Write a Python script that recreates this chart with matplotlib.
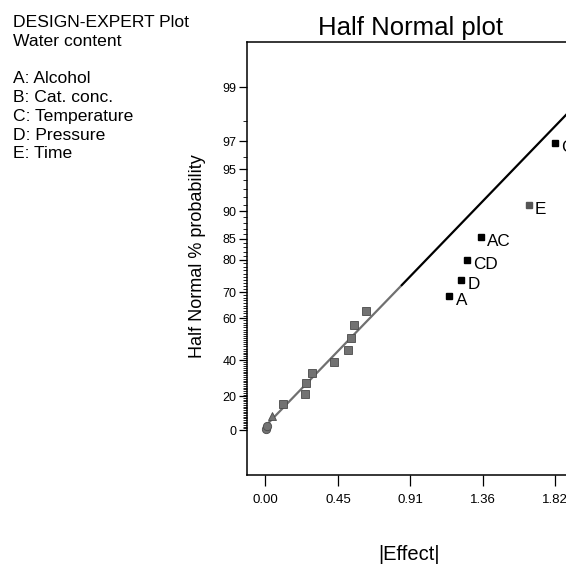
import math
import numpy as np
import matplotlib
matplotlib.use("Agg")
import matplotlib.pyplot as plt
from matplotlib.ticker import FixedLocator, FixedFormatter, NullFormatter

plt.rcParams['font.family'] = ['Liberation Sans', 'DejaVu Sans']

# Significant terms: |Effect| and half-normal % probability
term_labels = ["A", "D", "CD", "AC", "E", "C"]
term_effects = [1.154, 1.227, 1.263, 1.351, 1.652, 1.817]
term_probs = [68.6, 74.1, 79.9, 85.4, 91.0, 96.9]

# Remaining (small) effects
small_sq_effects = [0.108, 0.251, 0.256, 0.294, 0.427, 0.516, 0.537, 0.557, 0.631]
small_sq_probs = [15.5, 21.2, 27.4, 33.3, 39.2, 45.3, 50.9, 57.0, 62.9]
small_tri_effects = [0.039]
small_tri_probs = [8.4]
small_circ_effects = [0.002, 0.008]
small_circ_probs = [0.7, 2.2]

# Reference line through the small effects
fit_effects = [0.0, 0.85, 2.25]
fit_probs = [2.4, 72.1, 99.52]

x_ticks = [0.0, 0.4545, 0.909, 1.3635, 1.818]
x_tick_labels = ["0.00", "0.45", "0.91", "1.36", "1.82"]
y_ticks = [0, 20, 40, 60, 70, 80, 85, 90, 95, 97, 99]
y_minor = [v for v in range(1, 99) if v not in y_ticks]

legend_lines = ["A: Alcohol", "B: Cat. conc.", "C: Temperature",
                "D: Pressure", "E: Time"]

# half-normal probability scale: p(%) <-> z
_z = np.linspace(-4.5, 4.5, 36001)
_p = np.array([math.erf(v / math.sqrt(2.0)) for v in _z]) * 100.0


def to_z(p):
    return np.interp(p, _p, _z)


def to_p(z):
    return np.interp(z, _z, _p)


W, H = 566, 565
fig = plt.figure(figsize=(W / 100, H / 100), dpi=100)
ax = fig.add_axes([247 / W, 1 - 475 / H, (640 - 247) / W, (475 - 42) / H])
ax.set_yscale('function', functions=(to_z, to_p))
ax.set_xlim(-0.116, 2.351)
ax.set_ylim(float(to_p(-0.338)), float(to_p(2.917)))

for s in ax.spines.values():
    s.set_linewidth(1.1)
    s.set_color('black')

ax.yaxis.set_major_locator(FixedLocator(y_ticks))
ax.yaxis.set_major_formatter(FixedFormatter([str(v) for v in y_ticks]))
ax.yaxis.set_minor_locator(FixedLocator(y_minor))
ax.yaxis.set_minor_formatter(NullFormatter())
ax.xaxis.set_major_locator(FixedLocator(x_ticks))
ax.xaxis.set_major_formatter(FixedFormatter(x_tick_labels))
ax.xaxis.set_minor_locator(FixedLocator([]))

ax.tick_params(axis='y', which='major', direction='out', length=5.5, width=0.9,
               labelsize=9, pad=2)
ax.tick_params(axis='y', which='minor', direction='out', length=3, width=0.6)
ax.tick_params(axis='x', which='major', direction='out', length=8, width=0.9,
               labelsize=9.5, pad=5.5)

# fitted line: lighter lower part, black upper part
ax.plot(fit_effects[:2], fit_probs[:2], color='#707070', lw=1.6,
        solid_capstyle='butt', zorder=2)
ax.plot(fit_effects[1:], fit_probs[1:], color='black', lw=1.6,
        solid_capstyle='butt', zorder=2)

grey = '#727272'
ax.plot(small_sq_effects, small_sq_probs, 's', ms=5.2, color=grey,
        mec='#4a4a4a', mew=0.6, zorder=3, clip_on=False)
ax.plot(small_tri_effects, small_tri_probs, '^', ms=6, color=grey,
        mec='#4a4a4a', mew=0.6, zorder=3, clip_on=False)
ax.plot(small_circ_effects, small_circ_probs, 'o', ms=6, color=grey,
        mec='#4a4a4a', mew=0.6, zorder=3, clip_on=False)

term_colors = ['black', 'black', 'black', 'black', '#555555', 'black']
for lab, xe, yp, c in zip(term_labels, term_effects, term_probs, term_colors):
    ax.plot([xe], [yp], 's', ms=4.6, color=c, mec=c, zorder=4)
    ax.annotate(lab, (xe, yp), xytext=(4.5, -3.5), textcoords='offset points',
                ha='left', va='center', fontsize=12.3, color='black')

fig.text(410.5 / W, 1 - 28 / H, "Half Normal plot", ha='center', va='center',
         fontsize=18.5)
fig.text(409 / W, 1 - 555 / H, "|Effect|", ha='center', va='center',
         fontsize=14.5)
fig.text(197 / W, 1 - 256 / H, "Half Normal % probability", ha='center',
         va='center', rotation=90, fontsize=13)

fig.text(13 / W, 1 - 26.7 / H, "DESIGN-EXPERT Plot", ha='left',
         va='baseline', fontsize=12.6)
fig.text(13 / W, 1 - 45.5 / H, "Water content", ha='left', va='baseline',
         fontsize=12.6)
for i, t in enumerate(legend_lines):
    fig.text(13 / W, 1 - (83.3 + 18.75 * i) / H, t, ha='left',
             va='baseline', fontsize=12.6)

fig.savefig("out.png", dpi=100)
